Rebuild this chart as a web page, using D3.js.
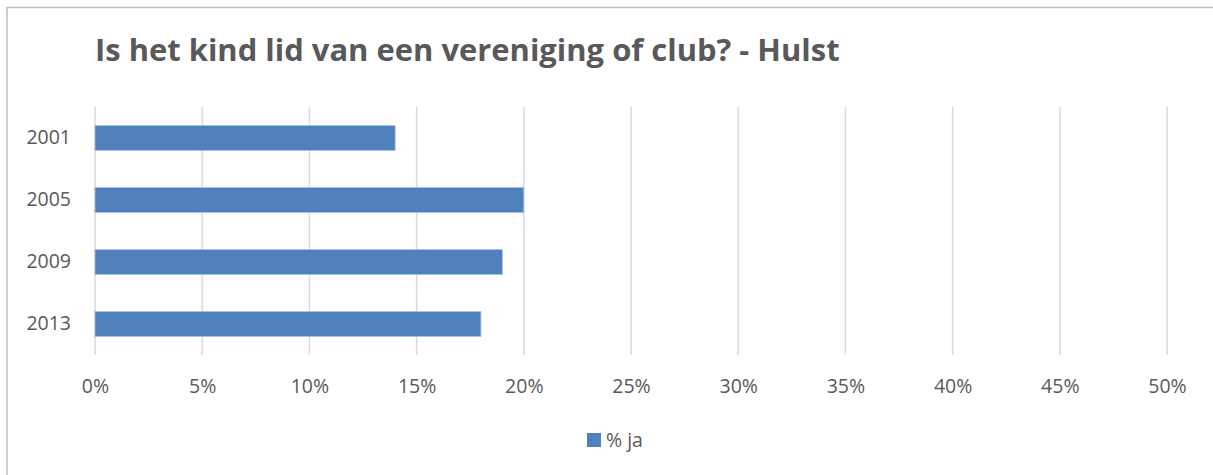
<!DOCTYPE html>
<html>
<head>
<meta charset="utf-8">
<script src="https://cdn.jsdelivr.net/npm/d3@7"></script>
<style>
  body { margin: 0; background: #fff; }
  text { font-family: "Open Sans", "DejaVu Sans", sans-serif; fill: #595959; }
</style>
</head>
<body>
<svg id="chart" width="1213" height="475"></svg>
<script>
var years = ["2001", "2005", "2009", "2013"];
var pctJa = [0.14, 0.20, 0.19, 0.18];
var xTicks = [0, 0.05, 0.10, 0.15, 0.20, 0.25, 0.30, 0.35, 0.40, 0.45, 0.50];
var titleText = "Is het kind lid van een vereniging of club? - Hulst";
var seriesName = "% ja";

var svg = d3.select("#chart");
var margin = {top: 107, left: 95, right: 46, bottom: 120};
var width = 1213 - margin.left - margin.right,
    height = 475 - margin.top - margin.bottom;

// chart frame (only top + left visible in the picture)
svg.append("path")
  .attr("d", "M7,475 L7,7.5 L1213,7.5")
  .attr("fill", "none")
  .attr("stroke", "#bfbfbf")
  .attr("stroke-width", 1.5);

var title = svg.append("text")
  .attr("x", 95)
  .attr("y", 61)
  .style("font-size", "29px")
  .style("font-weight", "bold")
  .text(titleText);
// fit title to the width seen in the reference
var tw = title.node().getComputedTextLength();
title.style("font-size", (29 * 745 / tw) + "px");

var g = svg.append("g").attr("transform", "translate(" + margin.left + "," + margin.top + ")");

var x = d3.scaleLinear().domain([0, 0.5]).range([0, width]);
var y = d3.scaleBand().domain(years).range([0, height]).paddingInner(0.6).paddingOuter(0.3);

// gridlines
g.selectAll(".grid")
  .data(xTicks)
  .enter().append("line")
  .attr("x1", function(d) { return x(d); })
  .attr("x2", function(d) { return x(d); })
  .attr("y1", 0)
  .attr("y2", height)
  .attr("stroke", "#d9d9d9")
  .attr("stroke-width", 1.5);

// bars
g.selectAll(".bar")
  .data(years)
  .enter().append("rect")
  .attr("x", x(0))
  .attr("y", function(d) { return y(d); })
  .attr("width", function(d, i) { return x(pctJa[i]) - x(0); })
  .attr("height", y.bandwidth())
  .attr("fill", "#4f81bd")
  .attr("stroke", "#a7c0de")
  .attr("stroke-width", 0.8);

// y axis labels
var yAxis = g.append("g")
  .attr("transform", "translate(-24,0)")
  .call(d3.axisLeft(y).tickSize(0).tickPadding(0));
yAxis.select(".domain").remove();
yAxis.selectAll("text")
  .style("font-size", "19.5px")
  .attr("fill", "#595959");

// x axis labels
var xAxis = g.append("g")
  .attr("transform", "translate(0," + height + ")")
  .call(d3.axisBottom(x).tickValues(xTicks).tickFormat(d3.format(".0%")).tickSize(0).tickPadding(24));
xAxis.select(".domain").remove();
xAxis.selectAll("text")
  .style("font-size", "19.5px")
  .attr("fill", "#595959");

// legend
var legend = svg.append("g").attr("transform", "translate(587,433)");
legend.append("rect")
  .attr("width", 14).attr("height", 14)
  .attr("fill", "#4f81bd");
legend.append("text")
  .attr("x", 19).attr("y", 14)
  .style("font-size", "19.5px")
  .text(seriesName);
</script>
</body>
</html>
